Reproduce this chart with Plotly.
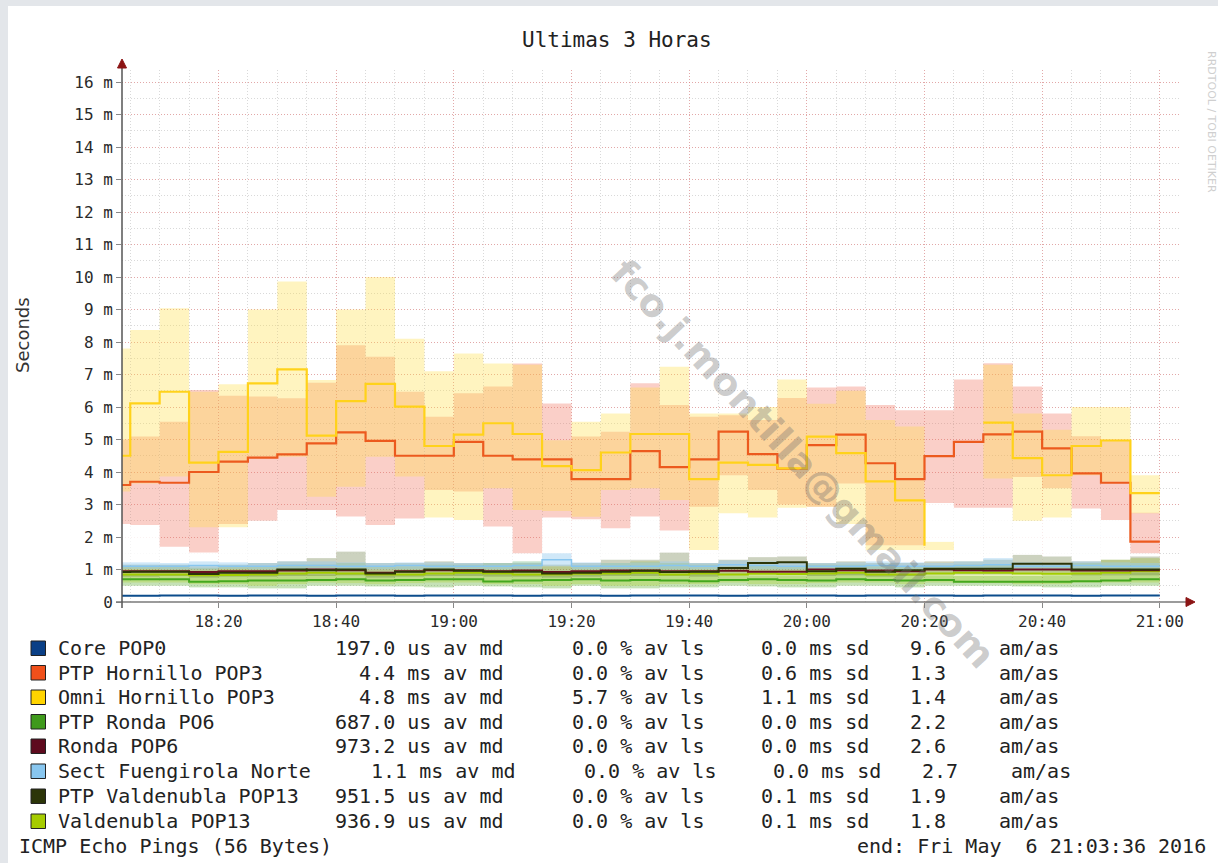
import plotly.graph_objects as go
import pandas as pd

# ---------------- data ----------------
bucket_start = pd.date_range("2016-05-06 18:00:00", periods=36, freq="5min")
bucket_end = pd.Timestamp("2016-05-06 21:00:00")
x_range = ["2016-05-06 18:03:36", "2016-05-06 21:03:36"]
x_tick_times = ["2016-05-06 18:20", "2016-05-06 18:40", "2016-05-06 19:00",
                "2016-05-06 19:20", "2016-05-06 19:40", "2016-05-06 20:00",
                "2016-05-06 20:20", "2016-05-06 20:40", "2016-05-06 21:00"]
x_tick_labels = ["18:20", "18:40", "19:00", "19:20", "19:40", "20:00", "20:20", "20:40", "21:00"]
y_tick_vals = [0, 1, 2, 3, 4, 5, 6, 7, 8, 9, 10, 11, 12, 13, 14, 15, 16]
y_tick_labels = ["0", "1 m", "2 m", "3 m", "4 m", "5 m", "6 m", "7 m", "8 m", "9 m",
                 "10 m", "11 m", "12 m", "13 m", "14 m", "15 m", "16 m"]

# medians (ms)
hornillo_med = [3.6, 3.7, 3.67, 4.0, 4.32, 4.44, 4.54, 4.88, 5.22, 4.96, 4.5, 4.5, 4.93, 4.5, 4.39, 4.39,
                3.78, 3.78, 4.64, 4.15, 4.39, 5.24, 4.55, 4.1, 4.83, 5.15, 4.27, 3.78, 4.49, 4.93, 5.16,
                5.24, 4.73, 3.96, 3.67, 1.86]
omni_med = [4.5, 6.11, 6.47, 4.29, 4.62, 6.73, 7.16, 5.12, 6.18, 6.71, 6.01, 4.8, 5.15, 5.5, 5.17, 4.18,
            4.06, 4.6, 5.17, 5.17, 3.78, 4.29, 4.22, 4.11, 5.09, 4.58, 3.71, 3.13, 1.73, None, 5.52,
            4.43, 3.9, 4.8, 4.97, 3.35]
# smoke ranges (ms)
omni_lo = [3.4, 3.65, 3.86, 2.3, 2.3, 4.47, 4.47, 3.24, 3.55, 4.47, 3.86, 2.6, 2.52, 3.5, 2.83, 2.8,
           2.62, 3.45, 3.5, 3.14, 1.6, 2.73, 2.6, 2.9, 2.93, 2.4, 1.6, 1.6, 1.6, None, 3.8, 2.5, 2.6,
           3.9, 3.7, 2.73]
omni_hi = [7.8, 8.37, 9.04, 6.47, 6.7, 9.0, 9.86, 6.83, 9.0, 10.0, 8.1, 7.1, 7.65, 7.34, 7.3, 4.98,
           5.55, 5.8, 6.6, 7.24, 5.8, 5.8, 6.0, 6.85, 6.1, 6.5, 5.6, 5.4, 1.85, None, 7.3, 5.8, 5.3,
           6.0, 6.0, 3.9]
hornillo_lo = [2.4, 2.37, 1.7, 1.52, 2.4, 2.5, 2.83, 2.83, 2.63, 2.37, 2.57, 3.45, 3.4, 2.32, 1.5, 2.6,
               2.55, 2.27, 2.63, 2.2, 2.93, 3.9, 3.45, 3.0, 2.93, 3.65, 1.75, 1.75, 3.05, 2.9, 2.9,
               3.85, 3.5, 2.88, 2.52, 1.5]
hornillo_hi = [5.0, 5.09, 5.55, 6.52, 6.35, 6.32, 6.27, 6.75, 7.9, 7.55, 6.47, 5.7, 6.42, 6.63, 7.34,
               6.11, 5.09, 5.24, 6.73, 6.06, 5.7, 5.75, 5.6, 6.28, 6.6, 6.63, 6.06, 5.9, 5.9, 6.85,
               7.35, 6.63, 5.8, 5.1, 5.0, 2.75]
blank_lo = [1.2, 1.2, 1.2, 1.2, 1.2, 1.2, 1.2, 1.2, 1.2, 1.2, 1.2, 1.2, 1.2, 1.2, 1.2, 1.2, 1.2, 1.2,
            1.2, 1.2, 1.2, 1.2, 1.2, 1.2, 1.2, 1.2, 1.2, 1.2, 1.2, 1.2, 1.2, 1.2, 1.2, 1.2, 1.2, 1.2]
blank_hi = [2.4, 2.37, 1.7, 1.52, 2.3, 2.5, 2.83, 2.83, 2.63, 2.37, 2.57, 2.6, 2.52, 2.32, 1.5, 2.6,
            2.55, 2.27, 2.63, 2.2, 1.6, 2.73, 2.6, 2.9, 2.93, 2.4, 1.6, 1.6, 3.05, 2.9, 2.9, 2.5, 2.6,
            2.88, 2.52, 1.5]

core_med = [0.19, 0.19, 0.2, 0.2, 0.19, 0.2, 0.2, 0.19, 0.2, 0.2, 0.19, 0.2, 0.2, 0.2, 0.19, 0.2, 0.2,
            0.19, 0.2, 0.2, 0.2, 0.19, 0.2, 0.2, 0.2, 0.19, 0.2, 0.2, 0.2, 0.19, 0.2, 0.2, 0.2, 0.19,
            0.2, 0.2]
ptp_ronda_med = [0.7, 0.7, 0.7, 0.62, 0.64, 0.66, 0.66, 0.68, 0.7, 0.66, 0.68, 0.7, 0.7, 0.63, 0.66,
                 0.68, 0.7, 0.66, 0.68, 0.66, 0.64, 0.68, 0.7, 0.68, 0.66, 0.7, 0.68, 0.66, 0.68, 0.62,
                 0.62, 0.62, 0.62, 0.64, 0.66, 0.7]
ptp_ronda_lo = [0.5, 0.5, 0.5, 0.45, 0.45, 0.42, 0.42, 0.5, 0.5, 0.48, 0.48, 0.45, 0.5, 0.48, 0.45,
                0.42, 0.5, 0.42, 0.42, 0.45, 0.45, 0.5, 0.48, 0.45, 0.45, 0.5, 0.5, 0.45, 0.5, 0.5,
                0.5, 0.48, 0.45, 0.45, 0.5, 0.5]
ptp_ronda_hi = [0.85, 0.85, 0.85, 0.8, 0.82, 0.85, 0.88, 0.85, 0.9, 0.85, 0.85, 0.85, 0.88, 0.85, 0.85,
                0.82, 0.85, 0.88, 0.9, 0.85, 0.85, 0.85, 0.82, 0.82, 0.85, 0.88, 0.85, 0.85, 0.82, 0.8,
                0.8, 0.8, 0.82, 0.85, 0.85, 0.9]
ronda_med = [0.95, 0.95, 0.95, 0.92, 0.95, 0.95, 0.97, 1.0, 0.98, 0.9, 0.95, 0.98, 0.98, 0.95, 0.97,
             0.92, 0.95, 0.97, 0.97, 0.95, 0.95, 0.96, 0.93, 0.93, 1.0, 0.98, 0.97, 0.95, 1.0, 0.98,
             0.97, 1.0, 1.0, 0.97, 0.97, 0.98]
fuengirola_med = [1.1, 1.1, 1.1, 1.12, 1.1, 1.1, 1.12, 1.12, 1.1, 1.1, 1.12, 1.1, 1.1, 1.1, 1.12, 1.3,
                  1.1, 1.1, 1.1, 1.12, 1.1, 1.15, 1.12, 1.1, 1.1, 1.1, 1.12, 1.1, 1.1, 1.12, 1.15, 1.1,
                  1.1, 1.12, 1.1, 1.1]
fuengirola_lo = [1.02, 1.02, 1.0, 1.0, 1.02, 1.0, 1.0, 1.02, 1.02, 1.0, 1.0, 1.02, 1.0, 1.0, 1.0, 1.1,
                 1.0, 1.0, 1.02, 1.0, 1.0, 1.02, 1.0, 1.0, 1.0, 1.02, 1.0, 1.0, 1.0, 1.02, 1.02, 1.0,
                 1.0, 1.0, 1.02, 1.02]
fuengirola_hi = [1.22, 1.22, 1.2, 1.25, 1.22, 1.2, 1.25, 1.25, 1.22, 1.2, 1.22, 1.22, 1.2, 1.2, 1.25,
                 1.5, 1.22, 1.2, 1.22, 1.25, 1.2, 1.28, 1.25, 1.22, 1.2, 1.22, 1.25, 1.22, 1.2, 1.25,
                 1.35, 1.22, 1.2, 1.25, 1.22, 1.2]
ptp_valdenubla_med = [0.92, 0.93, 0.93, 0.86, 0.9, 0.9, 1.0, 0.98, 1.0, 0.88, 0.93, 1.0, 0.96, 0.93,
                      0.93, 0.88, 0.9, 0.93, 0.96, 0.92, 0.93, 1.05, 1.2, 1.22, 0.95, 1.02, 0.93, 0.98,
                      1.02, 1.02, 1.02, 1.18, 1.18, 1.0, 1.0, 1.0]
ptp_valdenubla_lo = [0.78, 0.78, 0.8, 0.75, 0.78, 0.78, 0.8, 0.8, 0.82, 0.75, 0.78, 0.8, 0.8, 0.78,
                     0.78, 0.75, 0.78, 0.8, 0.8, 0.8, 0.78, 0.85, 0.9, 0.92, 0.8, 0.82, 0.78, 0.8,
                     0.85, 0.85, 0.85, 0.9, 0.9, 0.82, 0.82, 0.82]
ptp_valdenubla_hi = [1.15, 1.15, 1.15, 1.1, 1.15, 1.2, 1.25, 1.35, 1.55, 1.2, 1.2, 1.25, 1.2, 1.2, 1.2,
                     1.15, 1.2, 1.3, 1.3, 1.52, 1.2, 1.3, 1.38, 1.4, 1.2, 1.25, 1.2, 1.2, 1.25, 1.25,
                     1.3, 1.45, 1.4, 1.25, 1.3, 1.4]
valdenubla_med = [0.85, 0.85, 0.85, 0.82, 0.83, 0.85, 0.88, 0.9, 0.88, 0.85, 0.85, 0.88, 0.9, 0.88,
                  0.85, 0.85, 0.87, 0.88, 0.9, 0.85, 0.88, 0.85, 0.87, 0.86, 0.88, 0.9, 0.85, 0.85,
                  0.88, 0.9, 0.9, 0.88, 0.87, 0.88, 0.9, 0.95]
valdenubla_lo = [0.6, 0.6, 0.6, 0.55, 0.55, 0.5, 0.55, 0.6, 0.58, 0.55, 0.58, 0.6, 0.6, 0.55, 0.55,
                 0.5, 0.55, 0.5, 0.5, 0.55, 0.55, 0.6, 0.55, 0.55, 0.58, 0.6, 0.6, 0.55, 0.6, 0.6,
                 0.58, 0.55, 0.55, 0.6, 0.6, 0.6]
valdenubla_hi = [1.1, 1.1, 1.1, 1.05, 1.08, 1.1, 1.15, 1.15, 1.2, 1.1, 1.1, 1.15, 1.15, 1.2, 1.25,
                 1.1, 1.12, 1.2, 1.25, 1.2, 1.15, 1.1, 1.12, 1.1, 1.15, 1.15, 1.1, 1.1, 1.12, 1.15,
                 1.15, 1.12, 1.12, 1.2, 1.3, 1.35]

# legend table
legend_names = ["Core POP0", "PTP Hornillo POP3", "Omni Hornillo POP3", "PTP Ronda PO6",
                "Ronda POP6", "Sect Fuengirola Norte", "PTP Valdenubla POP13", "Valdenubla POP13"]
legend_colors = ["#0a3f86", "#f0501a", "#ffd400", "#3f9a1c", "#5e0a1e", "#88c6ef", "#2c3508", "#a6cc00"]
legend_median = ["197.0 us av md", "4.4 ms av md", "4.8 ms av md", "687.0 us av md",
                 "973.2 us av md", "1.1 ms av md", "951.5 us av md", "936.9 us av md"]
legend_loss = ["0.0 % av ls", "0.0 % av ls", "5.7 % av ls", "0.0 % av ls", "0.0 % av ls",
               "0.0 % av ls", "0.0 % av ls", "0.0 % av ls"]
legend_sd = ["0.0 ms sd", "0.6 ms sd", "1.1 ms sd", "0.0 ms sd", "0.0 ms sd", "0.0 ms sd",
             "0.1 ms sd", "0.1 ms sd"]
legend_amas = ["9.6", "1.3", "1.4", "2.2", "2.6", "2.7", "1.9", "1.8"]

# ---------------- figure ----------------
W, H = 1218, 863
L, R, T, B = 122, 1181, 70, 602


def px(x):
    return (x - L) / (R - L)


def py(y):
    return (B - y) / (B - T)


def band(lo, hi, color):
    h = [(b - a) if (a is not None and b is not None) else None for a, b in zip(lo, hi)]
    return go.Bar(x=bucket_start, y=h, base=lo, width=300000, offset=0,
                  marker=dict(color=color, line=dict(width=0)),
                  showlegend=False, hoverinfo="skip")


def step(vals, color, width=2.0):
    xs = list(bucket_start) + [bucket_end]
    ys = list(vals) + [vals[-1]]
    return go.Scatter(x=xs, y=ys, mode="lines", line=dict(color=color, width=width, shape="hv"),
                      connectgaps=False, showlegend=False, hoverinfo="skip")


fig = go.Figure()
fig.add_trace(band(blank_lo, blank_hi, "rgba(255,255,255,0.85)"))
fig.add_trace(band(hornillo_lo, hornillo_hi, "rgba(240,115,95,0.34)"))
fig.add_trace(band(omni_lo, omni_hi, "rgba(255,222,70,0.34)"))
fig.add_trace(band(ptp_ronda_lo, ptp_ronda_hi, "rgba(90,170,50,0.35)"))
fig.add_trace(band(valdenubla_lo, valdenubla_hi, "rgba(170,210,30,0.32)"))
fig.add_trace(band(ptp_valdenubla_lo, ptp_valdenubla_hi, "rgba(95,115,55,0.32)"))
fig.add_trace(band(fuengirola_lo, fuengirola_hi, "rgba(150,205,240,0.45)"))

fig.add_trace(step(core_med, "#0b4c8c", 2))
fig.add_trace(step(ptp_ronda_med, "#44a81e", 2))
fig.add_trace(step(valdenubla_med, "#a2cc00", 2))
fig.add_trace(step(fuengirola_med, "#88c6ef", 1.5))
fig.add_trace(step(ronda_med, "#6a1020", 2))
fig.add_trace(step(ptp_valdenubla_med, "#2c3508", 2))
fig.add_trace(step(hornillo_med, "#ec5a1e", 2.2))
fig.add_trace(step(omni_med, "#ffd21a", 2.2))

major_grid = "rgba(235,120,120,0.5)"
minor_grid = "rgba(160,160,160,0.4)"
dots = "1px,2px"
tick_font = dict(family="DejaVu Sans Mono", size=16, color="#2a2a2a")

fig.update_xaxes(type="date", range=x_range, tickmode="array", tickvals=x_tick_times,
                 ticktext=x_tick_labels, showgrid=True, gridcolor=major_grid, griddash=dots,
                 gridwidth=1, ticks="outside", ticklen=5, tickcolor="#888", tickfont=tick_font,
                 minor=dict(tickmode="linear", tick0="2016-05-06 18:00", dtick=300000,
                            showgrid=True, gridcolor=minor_grid, griddash=dots, gridwidth=1),
                 showline=False, zeroline=False)
fig.update_yaxes(range=[0, 16.37], tickmode="array", tickvals=y_tick_vals, ticktext=y_tick_labels,
                 showgrid=True, gridcolor=major_grid, griddash=dots, gridwidth=1,
                 ticks="outside", ticklen=5, tickcolor="#888", tickfont=tick_font,
                 minor=dict(tickmode="linear", tick0=0, dtick=0.5, showgrid=True,
                            gridcolor=minor_grid, griddash=dots, gridwidth=1),
                 showline=False, zeroline=False)

shapes = []
# outer grey frame strips
shapes.append(dict(type="rect", xref="paper", yref="paper", x0=px(0), x1=px(8), y0=py(H), y1=py(0),
                   fillcolor="#e3e6ea", line=dict(width=0), layer="above"))
shapes.append(dict(type="rect", xref="paper", yref="paper", x0=px(0), x1=px(W), y0=py(6), y1=py(0),
                   fillcolor="#e3e6ea", line=dict(width=0), layer="above"))
# axes
shapes.append(dict(type="line", xref="paper", yref="paper", x0=px(116), x1=px(1187), y0=0, y1=0,
                   line=dict(color="#7a7a7a", width=1.5), layer="above"))
shapes.append(dict(type="line", xref="paper", yref="paper", x0=0, x1=0, y0=py(608), y1=py(66),
                   line=dict(color="#555555", width=1.5), layer="above"))
# arrows
shapes.append(dict(type="path", xref="paper", yref="paper",
                   path=f"M {px(117.5)},{py(68)} L {px(126.5)},{py(68)} L {px(122)},{py(59)} Z",
                   fillcolor="#8b1414", line=dict(color="#8b1414", width=1), layer="above"))
shapes.append(dict(type="path", xref="paper", yref="paper",
                   path=f"M {px(1186)},{py(597.5)} L {px(1186)},{py(606.5)} L {px(1195)},{py(602)} Z",
                   fillcolor="#8b1414", line=dict(color="#8b1414", width=1), layer="above"))

annotations = []
font_mono = "DejaVu Sans Mono"
annotations.append(dict(text="Ultimas 3 Horas", x=px(617), y=py(40), xref="paper", yref="paper",
                        showarrow=False, xanchor="center", yanchor="middle",
                        font=dict(family=font_mono, size=21, color="#222")))
annotations.append(dict(text="Seconds", x=px(22), y=py(335), xref="paper", yref="paper",
                        showarrow=False, xanchor="center", yanchor="middle", textangle=-90,
                        font=dict(family="DejaVu Sans", size=18, color="#333")))
annotations.append(dict(text="RRDTOOL / TOBI OETIKER", x=px(1212), y=py(122), xref="paper",
                        yref="paper", showarrow=False, xanchor="center", yanchor="middle",
                        textangle=90, font=dict(family="DejaVu Sans", size=11, color="#cfcfcf")))

row_y = [648, 672.5, 697, 721.5, 746, 771, 796, 821]
lf = dict(family=font_mono, size=20, color="#222")
for i, name in enumerate(legend_names):
    yy = row_y[i]
    sh = 12 if len(name) > 20 else 0
    shapes.append(dict(type="rect", xref="paper", yref="paper", x0=px(31), x1=px(45.5),
                       y0=py(yy + 7.5), y1=py(yy - 7), fillcolor=legend_colors[i],
                       line=dict(color="#222", width=1), layer="above"))
    for txt, xx, anc in [(name, 56, "left"), (legend_median[i], 506 + sh, "right"),
                         (legend_loss[i], 706 + sh, "right"), (legend_sd[i], 871 + sh, "right"),
                         (legend_amas[i], 948 + sh, "right"), ("am/as", 997 + sh, "left")]:
        annotations.append(dict(text=txt, x=px(xx), y=py(yy), xref="paper", yref="paper",
                                showarrow=False, xanchor=anc, yanchor="middle", font=lf))
annotations.append(dict(text="ICMP Echo Pings (56 Bytes)", x=px(17), y=py(846), xref="paper",
                        yref="paper", showarrow=False, xanchor="left", yanchor="middle", font=lf))
annotations.append(dict(text="end: Fri May\u00a0 6 21:03:36 2016", x=px(1208), y=py(846),
                        xref="paper", yref="paper", showarrow=False, xanchor="right",
                        yanchor="middle", font=lf))
# watermark
annotations.append(dict(text="<b>fco.j.montilla@gmail.com</b>", x=px(803), y=py(464), xref="paper",
                        yref="paper", showarrow=False, xanchor="center", yanchor="middle",
                        textangle=47, font=dict(family="DejaVu Sans", size=38,
                                                color="rgba(110,110,110,0.36)")))

fig.update_layout(width=W, height=H, autosize=False,
                  margin=dict(l=L, r=W - R, t=T, b=H - B, pad=0),
                  paper_bgcolor="white", plot_bgcolor="white", barmode="overlay",
                  showlegend=False, shapes=shapes, annotations=annotations,
                  font=dict(family=font_mono, color="#333"))

fig.write_html("out.html", config={"displayModeBar": False},
               post_script="document.body.style.margin='0';document.body.style.overflow='hidden';")
